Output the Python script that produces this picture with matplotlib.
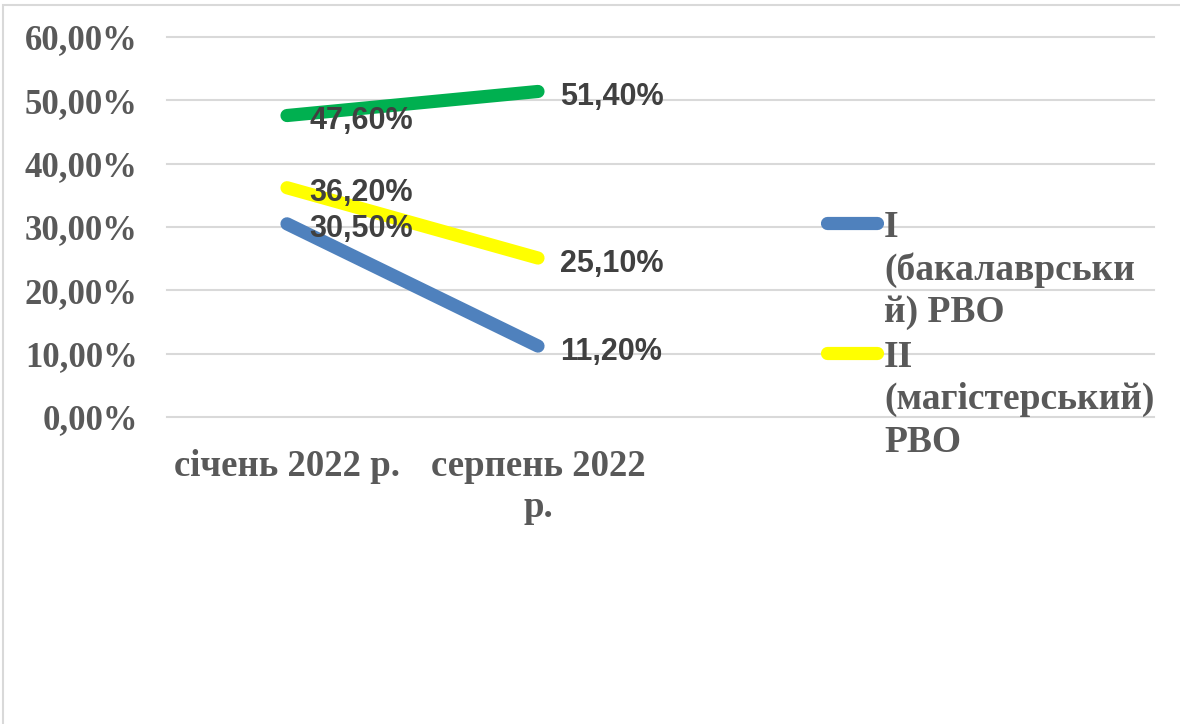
import matplotlib.pyplot as plt
from matplotlib.lines import Line2D
from matplotlib.patches import Rectangle
from matplotlib.ticker import FuncFormatter

# data
categories = ["січень 2022 р.", "серпень 2022\nр."]
bachelor = [0.305, 0.112]
master = [0.362, 0.251]
other = [0.476, 0.514]
series_labels = ["I\n(бакалаврськи\nй) РВО", "II\n(магістерський)\nРВО"]

blue = "#4F81BD"
yellow = "#FFFF00"
green = "#00B050"
grid_c = "#D9D9D9"
axis_txt = "#595959"
lbl_txt = "#404040"

W, H = 1180, 724
fig = plt.figure(figsize=(W / 100, H / 100), dpi=100)

# chart border (runs off the right and bottom edge)
fig.add_artist(Rectangle((3 / W, -0.2), 1.2, 1.2 - 5 / H, transform=fig.transFigure,
                         fill=False, edgecolor=grid_c, linewidth=1.5))

ax = fig.add_axes([167 / W, 1 - 417 / H, (1154 - 167) / W, 380 / H])

x = [0, 1]
lw = 9.5
ax.plot(x, bachelor, color=blue, lw=lw, solid_capstyle="round", zorder=3)
ax.plot(x, master, color=yellow, lw=lw, solid_capstyle="round", zorder=3)
ax.plot(x, other, color=green, lw=lw, solid_capstyle="round", zorder=3)

# data labels to the right of each point
for ys in (bachelor, master, other):
    for xi, yi in zip(x, ys):
        txt = ("%.2f%%" % (yi * 100)).replace(".", ",")
        ax.annotate(txt, (xi, yi), xytext=(16, -4), textcoords="offset points",
                    ha="left", va="center", fontsize=22, fontweight="bold",
                    family="Liberation Sans", color=lbl_txt, zorder=5)

ax.set_ylim(0, 0.6)
ax.set_xlim(-(287 - 167) / 251, (1154 - 287) / 251)
ax.set_yticks([0, 0.1, 0.2, 0.3, 0.4, 0.5, 0.6])
ax.yaxis.set_major_formatter(FuncFormatter(lambda v, p: ("%.2f%%" % (v * 100)).replace(".", ",")))
ax.set_xticks(x)
ax.set_xticklabels(categories, linespacing=1.22)
for t in ax.get_yticklabels():
    t.set_family("Liberation Serif")
    t.set_fontweight("bold")
    t.set_fontsize(25)
    t.set_color(axis_txt)
for t in ax.get_xticklabels():
    t.set_family("Liberation Serif")
    t.set_fontweight("bold")
    t.set_fontsize(26.5)
    t.set_color(axis_txt)
ax.tick_params(axis="y", length=0, pad=21)
ax.tick_params(axis="x", length=0, pad=23)

ax.grid(axis="y", color=grid_c, lw=1.5, clip_on=False)
ax.set_axisbelow(True)
for s in ax.spines.values():
    s.set_visible(False)

# legend drawn by hand, Excel-style wrapped labels
leg_y = [223, 353]
for col, lab, yp in zip([blue, yellow], series_labels, leg_y):
    fig.add_artist(Line2D([826.5 / W, 876.5 / W], [1 - yp / H, 1 - yp / H],
                          transform=fig.transFigure, color=col, lw=lw,
                          solid_capstyle="round"))
    fig.text(884 / W, 1 - (yp - 13) / H, lab, ha="left", va="top",
             family="Liberation Serif", fontweight="bold", fontsize=27,
             color=axis_txt, linespacing=1.27)

fig.savefig("out.png", dpi=100, facecolor="white")
